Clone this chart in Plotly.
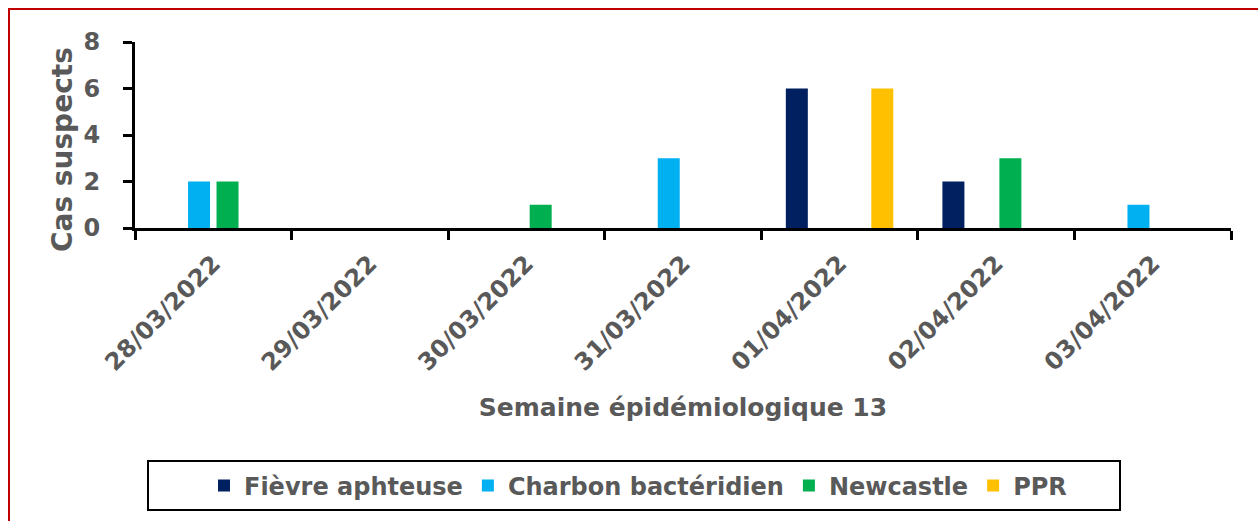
import plotly.graph_objects as go

categories = ["28/03/2022", "29/03/2022", "30/03/2022", "31/03/2022",
              "01/04/2022", "02/04/2022", "03/04/2022"]
fievre_aphteuse = [0, 0, 0, 0, 6, 2, 0]
charbon_bacteridien = [2, 0, 0, 3, 0, 0, 1]
newcastle = [2, 0, 1, 0, 0, 3, 0]
ppr = [0, 0, 0, 0, 6, 0, 0]
y_ticks = [0, 2, 4, 6, 8]

series = [
    ("Fièvre aphteuse", fievre_aphteuse, "#002060"),
    ("Charbon bactéridien", charbon_bacteridien, "#00B0F0"),
    ("Newcastle", newcastle, "#00B050"),
    ("PPR", ppr, "#FFC000"),
]

FONT = "DejaVu Sans"
GREY = "#595959"

fig = go.Figure()
for name, vals, col in series:
    fig.add_trace(go.Bar(x=categories, y=vals, name=name,
                         marker=dict(color=col, line=dict(width=0))))

L, R, T, B = 135, 27, 42, 293
W, H = 1258, 521
pw = W - L - R
ph = H - T - B

def px_x(x):
    return (x - L) / pw

def px_y(y):
    return (T + ph - y) / ph

fig.update_layout(
    width=W, height=H,
    margin=dict(l=L, r=R, t=T, b=B),
    paper_bgcolor="white", plot_bgcolor="white",
    barmode="group", bargap=0.272, bargroupgap=0.228,
    font=dict(family=FONT, color=GREY),
    showlegend=True,
    legend=dict(orientation="h", x=px_x(638), xanchor="center",
                y=px_y(486), yanchor="middle",
                bgcolor="rgba(0,0,0,0)", borderwidth=0,
                font=dict(family=FONT, size=24, color=GREY, weight="bold"),
                itemwidth=30, traceorder="normal"),
)

fig.update_xaxes(
    type="category", showgrid=False, showline=True, linecolor="black",
    linewidth=3, ticks="outside", tickson="boundaries", ticklen=9,
    tickwidth=3, tickcolor="black", tickangle=-45, ticklabelstandoff=9,
    tickfont=dict(family=FONT, size=24, color=GREY, weight="bold"),
    title=dict(text="Semaine épidémiologique 13", standoff=24,
               font=dict(family=FONT, size=25, color=GREY, weight="bold")),
)
fig.update_yaxes(
    range=[0, 8], tickvals=y_ticks, showgrid=False, zeroline=False,
    showline=True, linecolor="black", linewidth=3, ticks="outside",
    ticklen=9, tickwidth=3, tickcolor="black", ticklabelstandoff=18,
    tickfont=dict(family=FONT, size=24, color=GREY, weight="bold"),
)

fig.add_annotation(text="Cas suspects", xref="paper", yref="paper",
                   x=px_x(62), y=px_y(150), xanchor="center", yanchor="middle",
                   textangle=-90, showarrow=False,
                   font=dict(family=FONT, size=28, color=GREY, weight="bold"))

# legend frame
fig.add_shape(type="rect", xref="paper", yref="paper",
              x0=px_x(148), x1=px_x(1120), y0=px_y(510), y1=px_y(461),
              line=dict(color="black", width=2), fillcolor="rgba(0,0,0,0)")

# outer red frame (chart area border)
fig.add_shape(type="rect", xref="paper", yref="paper",
              x0=px_x(9), x1=px_x(W + 20),
              y0=px_y(H + 20), y1=px_y(9),
              line=dict(color="#C00000", width=2), fillcolor="rgba(0,0,0,0)",
              layer="below")

fig.write_html("out.html", config={"displayModeBar": False},
               post_script="document.body.style.margin='0';document.body.style.overflow='hidden';")
